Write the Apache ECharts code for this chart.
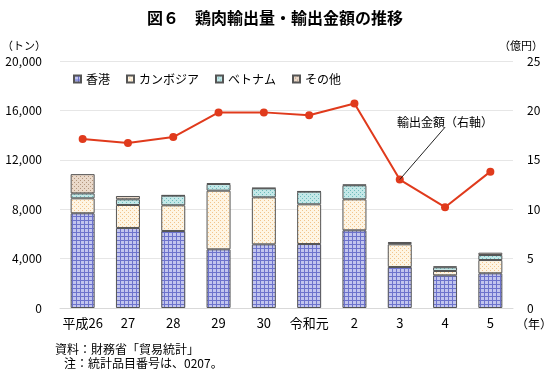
<!DOCTYPE html>
<html>
<head>
<meta charset="utf-8">
<script src="https://cdn.jsdelivr.net/npm/echarts@6/dist/echarts.min.js"></script>
<style>
    html, body { margin: 0; padding: 0; background: #fff; }
    #chart { width: 550px; height: 376px; }
</style>
</head>
<body>
<div id="chart"></div>
<script>
    // 年次（平成26年〜令和5年）
    var years = ['平成26', '27', '28', '29', '30', '令和元', '2', '3', '4', '5'];
    // 輸出量（トン）
    var hongKong = [7670, 6480, 6235, 4750, 5155, 5180, 6290, 3320, 2645, 2810];
    var cambodia = [1210, 1860, 2080, 4750, 3805, 3215, 2510, 1835, 350, 1075];
    var vietnam = [400, 460, 780, 540, 730, 1025, 1135, 100, 300, 405];
    var others = [1560, 270, 40, 60, 30, 30, 60, 90, 75, 190];
    // 輸出金額（億円）
    var exportValue = [17.1, 16.7, 17.3, 19.8, 19.8, 19.5, 20.7, 13.0, 10.2, 13.8];

    var FONT = '"Noto Sans CJK JP", "Noto Sans", sans-serif';

    // 小さいcanvasで塗りパターンを作る
    function makePattern(bg, fg, kind) {
        var c = document.createElement('canvas');
        c.width = 4;
        c.height = 4;
        var ctx = c.getContext('2d');
        ctx.fillStyle = bg;
        ctx.fillRect(0, 0, 4, 4);
        ctx.fillStyle = fg;
        if (kind === 'grid') {
            ctx.fillRect(0, 0, 4, 1);
            ctx.fillRect(0, 0, 1, 4);
        } else {
            ctx.fillRect(0, 0, 1, 1);
            ctx.fillRect(2, 2, 1, 1);
        }
        return { image: c, repeat: 'repeat' };
    }

    var hkFill = makePattern('#c2c5ee', '#6d73cc', 'grid');
    var kbFill = makePattern('#fef5e4', '#f2c48c', 'dot');
    var vnFill = makePattern('#c4e8e8', '#6fbcbc', 'dot');
    var otFill = makePattern('#ead9ca', '#b3957c', 'dot');

    function barSeries(name, data, fill) {
        return {
            name: name,
            type: 'bar',
            stack: 'vol',
            barWidth: 24,
            data: data,
            itemStyle: {
                color: fill,
                borderColor: '#555',
                borderWidth: 1
            }
        };
    }

    var myChart = echarts.init(document.getElementById('chart'));
    myChart.setOption({
        backgroundColor: '#fff',
        animation: false,
        textStyle: { fontFamily: FONT },
        title: {
            text: '図６　鶏肉輸出量・輸出金額の推移',
            left: 'center',
            top: 5,
            textStyle: { fontSize: 16, fontWeight: 'bold', color: '#000', fontFamily: FONT }
        },
        legend: {
            left: 68,
            top: 68,
            itemWidth: 7,
            itemHeight: 7,
            itemGap: 16,
            icon: 'rect',
            data: ['香港', 'カンボジア', 'ベトナム', 'その他'],
            textStyle: { fontSize: 12, color: '#000', fontFamily: FONT }
        },
        grid: { left: 60, right: 37, top: 61, bottom: 68, outerBoundsMode: 'none' },
        xAxis: {
            type: 'category',
            data: years,
            name: '（年）',
            nameLocation: 'end',
            nameGap: 3,
            nameTextStyle: { fontSize: 12, color: '#000', verticalAlign: 'top', padding: [10, 0, 0, 0] },
            axisLine: { lineStyle: { color: '#d9d9d9' } },
            axisTick: { show: false },
            axisLabel: { interval: 0, fontSize: 13, color: '#000', margin: 9, fontFamily: FONT }
        },
        yAxis: [{
            type: 'value',
            min: 0,
            max: 20000,
            interval: 4000,
            name: '（トン）',
            nameLocation: 'end',
            nameGap: 10,
            nameTextStyle: { fontSize: 11, color: '#000', align: 'left', padding: [0, 0, 0, -58] },
            axisLine: { show: false },
            axisTick: { show: false },
            splitLine: { lineStyle: { color: '#e6e6e6' } },
            axisLabel: {
                fontSize: 12,
                color: '#000',
                margin: 18,
                formatter: function(v) { return v.toLocaleString('en-US'); }
            }
        }, {
            type: 'value',
            min: 0,
            max: 25,
            interval: 5,
            name: '（億円）',
            nameLocation: 'end',
            nameGap: 10,
            nameTextStyle: { fontSize: 11, color: '#000', align: 'right', padding: [0, -30, 0, 0] },
            axisLine: { show: false },
            axisTick: { show: false },
            splitLine: { show: false },
            axisLabel: { fontSize: 12, color: '#000', margin: 14 }
        }],
        series: [
            barSeries('香港', hongKong, hkFill),
            barSeries('カンボジア', cambodia, kbFill),
            barSeries('ベトナム', vietnam, vnFill),
            barSeries('その他', others, otFill),
            {
                name: '輸出金額',
                type: 'line',
                yAxisIndex: 1,
                data: exportValue,
                symbol: 'circle',
                symbolSize: 8,
                itemStyle: { color: '#e03a1c' },
                lineStyle: { color: '#e03a1c', width: 2 },
                // 引き出し線と注記
                markLine: {
                    silent: true,
                    symbol: 'none',
                    label: { show: false },
                    lineStyle: { color: '#222', width: 1, type: 'solid' },
                    data: [[{ coord: ['4', 18.3] }, { coord: ['3', 13.0] }]]
                },
                markPoint: {
                    silent: true,
                    symbol: 'rect',
                    symbolSize: 0,
                    data: [{ coord: ['4', 18.8] }],
                    label: {
                        show: true,
                        formatter: '輸出金額（右軸）',
                        fontSize: 12,
                        color: '#000',
                        fontFamily: FONT
                    }
                }
            }
        ],
        graphic: [{
            type: 'text',
            left: 55,
            top: 343,
            style: { text: '資料：財務省「貿易統計」', font: '12px ' + FONT, fill: '#000' }
        }, {
            type: 'text',
            left: 64,
            top: 357,
            style: { text: '注：統計品目番号は、0207。', font: '12px ' + FONT, fill: '#000' }
        }]
    });
</script>
</body>
</html>
